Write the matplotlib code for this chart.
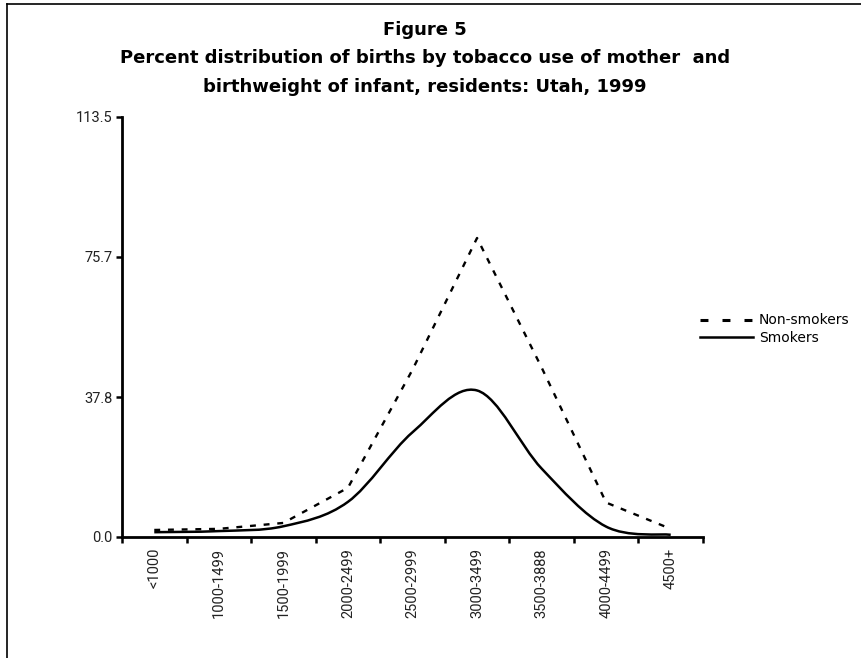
import numpy as np
import matplotlib
matplotlib.use("Agg")
import matplotlib.pyplot as plt
from matplotlib.path import Path
from matplotlib.patches import PathPatch
from matplotlib.lines import Line2D

# birthweight groups (grams)
categories = ["<1000", "1000-1499", "1500-1999", "2000-2499", "2500-2999",
              "3000-3499", "3500-3888", "4000-4499", "4500+"]
non_smokers = [1.9, 2.2, 3.8, 13.3, 45.2, 80.8, 45.8, 9.3, 2.2]
smokers = [1.3, 1.6, 2.9, 9.5, 28.3, 39.6, 18.5, 2.8, 0.6]
yticks = [0.0, 37.8, 75.7, 113.5]


def smooth_path(x, y):
    # excel-like smoothed line: bezier segments through each point
    pts = np.column_stack([x, y]).astype(float)
    n = len(pts)
    verts = [pts[0]]
    codes = [Path.MOVETO]
    for i in range(n - 1):
        p0 = pts[i - 1] if i > 0 else pts[i]
        p1 = pts[i]
        p2 = pts[i + 1]
        p3 = pts[i + 2] if i + 2 < n else pts[i + 1]
        verts += [p1 + (p2 - p0) / 6.0, p2 - (p3 - p1) / 6.0, p2]
        codes += [Path.CURVE4] * 3
    return Path(verts, codes)


fig = plt.figure(figsize=(8.62, 6.58), dpi=100)
ax = fig.add_axes([122 / 862, 1 - 537 / 658, 581 / 862, 420 / 658])

x = np.arange(len(categories))
ax.plot(x, non_smokers, color="black", lw=1.7, dashes=(2.5, 3.3),
        solid_capstyle="butt", dash_capstyle="butt")
ax.add_patch(PathPatch(smooth_path(x, smokers), facecolor="none",
                       edgecolor="black", lw=1.8))

ax.set_xlim(-0.5, len(categories) - 0.5)
ax.set_ylim(0, 113.5)
ax.set_yticks(yticks)
ax.set_yticklabels([f"{v:.1f}" for v in yticks], fontsize=10.5,
                   color="#222222", family="Roboto")
ax.set_xticks(np.arange(-0.5, len(categories), 1.0))
ax.set_xticklabels([])
ax.set_xticks(x, minor=True)
ax.set_xticklabels(categories, minor=True, rotation=90, fontsize=10.5,
                   color="#222222", family="Roboto", va="top")
ax.tick_params(axis="x", which="minor", length=0, pad=8)
ax.tick_params(axis="both", which="major", direction="out", length=4,
               width=1.8, color="black")
ax.tick_params(axis="y", pad=3)
for s in ["top", "right"]:
    ax.spines[s].set_visible(False)
for s in ["left", "bottom"]:
    ax.spines[s].set_linewidth(2.0)
ax.spines["left"].set_zorder(5)
ax.spines["bottom"].set_zorder(5)

# legend
handles = [Line2D([], [], color="black", lw=2.2, dashes=(2.6, 4.6)),
           Line2D([], [], color="black", lw=1.8)]
fig.legend(handles, ["Non-smokers", "Smokers"], loc="upper left",
           bbox_to_anchor=(688 / 862, 1 - 301 / 658), frameon=False,
           fontsize=10, handlelength=3.8, handletextpad=0.4, labelspacing=0.25)

# title
tx = 425 / 862
fig.text(tx, 1 - 30 / 658, "Figure 5", ha="center", va="center",
         fontsize=13, fontweight="bold")
fig.text(tx, 1 - 58 / 658,
         "Percent distribution of births by tobacco use of mother  and",
         ha="center", va="center", fontsize=13, fontweight="bold")
fig.text(tx, 1 - 87 / 658, "birthweight of infant, residents: Utah, 1999",
         ha="center", va="center", fontsize=13, fontweight="bold")

# page frame (top and left edges)
fig.add_artist(Line2D([7 / 862, 1.0], [1 - 4 / 658, 1 - 4 / 658],
                      color="black", lw=1.2, transform=fig.transFigure))
fig.add_artist(Line2D([7 / 862, 7 / 862], [0, 1 - 4 / 658],
                      color="black", lw=1.2, transform=fig.transFigure))

fig.savefig("out.png", dpi=100)
